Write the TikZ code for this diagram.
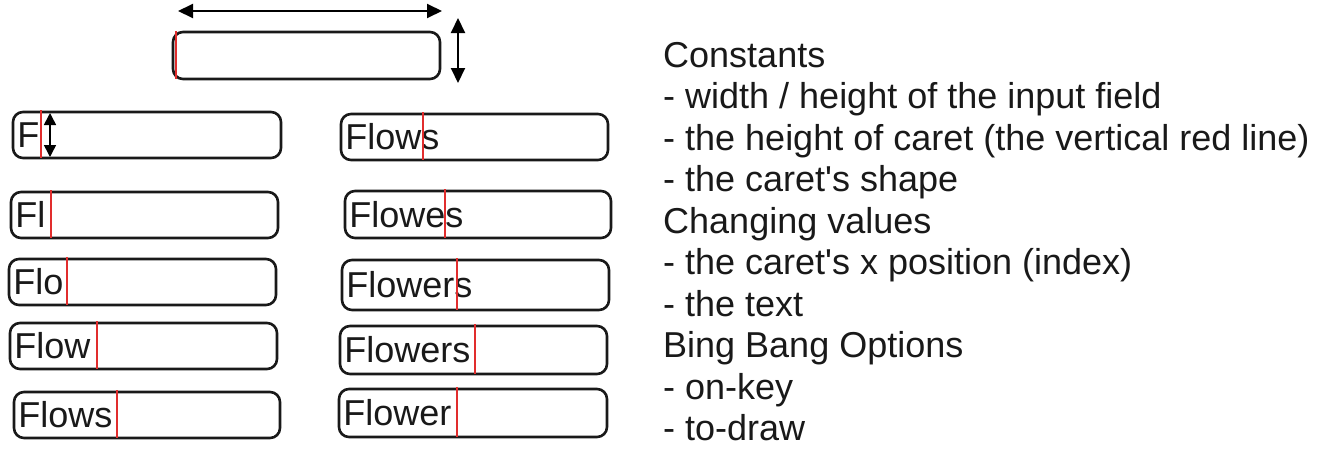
\documentclass[tikz,border=0pt]{standalone}
\usepackage{fontspec}
\setmainfont{Liberation Sans}
\usetikzlibrary{arrows.meta}
\definecolor{caretred}{RGB}{225,45,45}

\begin{document}
\begin{tikzpicture}[x=1pt,y=-1pt,
   field/.style={draw=black!90, line width=2.6pt, rounded corners=10pt, inner sep=0pt},
   caret/.style={draw=caretred, line width=2.8pt},
   dim/.style={line width=2pt, {Triangle[length=15pt,width=14pt]}-{Triangle[length=15pt,width=14pt]}},
   smalldim/.style={line width=1.6pt, {Triangle[length=12pt,width=12pt]}-{Triangle[length=12pt,width=12pt]}},
   typed/.style={anchor=base west, inner sep=0pt, font=\fontsize{36}{41}\selectfont, text=black!90},
   note/.style={anchor=base west, inner sep=0pt, font=\fontsize{36}{41}\selectfont, text=black!90}]
   \useasboundingbox (0,0) rectangle (1319,458);
   % the empty field with its size
   \node[field, minimum width=267pt, minimum height=47pt] (f0) at (306.5,55.5) {};
   \draw[caret] (176,31) -- (176,79);
   \coordinate (wl) at (178,11);
   \coordinate (wr) at (442,11);
   \coordinate (ht) at (458,18);
   \coordinate (hb) at (458,83);
   \draw[dim] (wl) -- (wr);
   \draw[dim] (ht) -- (hb);
   % typing, one field per step
   \foreach \n/\xa/\ya/\xb/\yb/\txt/\cx in {
      1/13/112/281/158/F/41,
      2/11/192/278/238/Fl/51,
      3/9/259/276/305/Flo/67,
      4/10/323/277/369/Flow/97,
      5/14/392/280/438/Flows/117,
      6/341/114/608/160/Flows/423,
      7/345/191/611/238/Flowes/445,
      8/342/260/609/310/Flowers/457,
      9/340/326/607/374/Flowers/475,
      10/339/389/607/437/Flower/457}
   {
      \node[field, minimum width={\xb pt-\xa pt}, minimum height={\yb pt-\ya pt}]
         (f\n) at ({(\xa+\xb)/2},{(\ya+\yb)/2}) {};
      \node[typed] (t\n) at ([xshift=5.5pt,yshift=-12.5pt]f\n.west) {\txt};
      \draw[caret] (\cx,{\ya-2}) -- (\cx,\yb);
   }
   \coordinate (ct) at (50,113);
   \coordinate (cb) at (50,157);
   \draw[smalldim] (ct) -- (cb);
   % notes
   \foreach \txt [count=\i from 0] in {{Constants},
      {- width / height of the input field},
      {- the height of caret (the vertical red line)},
      {- the caret\textquotesingle s shape},
      {Changing values},
      {- the caret\textquotesingle s x position (index)},
      {- the text},
      {Bing Bang Options},
      {- on-key},
      {- to-draw}}
      \node[note] (n\i) at (663,{67+41.5*\i}) {\txt};
\end{tikzpicture}
\end{document}
